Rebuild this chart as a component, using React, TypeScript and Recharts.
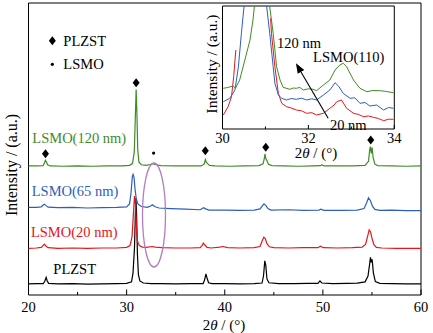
import React from 'react';
import {
  ComposedChart,
  LineChart,
  Line,
  Scatter,
  XAxis,
  YAxis,
  ReferenceDot,
  ReferenceLine,
  ReferenceArea,
} from 'recharts';

const FONT = '"Liberation Serif", "Times New Roman", serif';
const BLACK = '#000000';
const RED = '#e8151b';
const BLUE = '#2c5fbd';
const GREEN = '#3f8b26';
const PURPLE = '#b57cc0';

// main XRD patterns: [2θ, intensity], traces already stacked
const plzst: [number, number][] = [
  [20, 3.8], [20.8, 3.9], [21.5, 3.9], [21.65, 4.6], [21.8, 6.0], [21.9, 4.9], [22.05, 4.0],
  [23, 3.8], [24.5, 3.9], [26, 3.7], [27.5, 3.8], [29, 3.9], [30, 4.0], [30.5, 4.5],
  [30.65, 7.5], [30.8, 16], [30.9, 29], [30.95, 33.2], [31.02, 27], [31.1, 14], [31.2, 7],
  [31.35, 4.8], [31.7, 4.1], [32.5, 3.9], [33.5, 3.9], [35, 3.8], [36.5, 3.9], [37.8, 3.9],
  [37.95, 5.2], [38.08, 7.2], [38.18, 6.0], [38.35, 4.2], [38.7, 3.9], [40, 3.9], [41.5, 3.8],
  [43, 3.9], [43.8, 4.1], [43.95, 6.5], [44.08, 11.7], [44.18, 10.2], [44.3, 5.5], [44.5, 4.2],
  [45.5, 3.9], [47, 3.9], [48.5, 4.0], [49.5, 4.0], [49.7, 4.8], [49.9, 4.1], [51, 3.9],
  [52.5, 4.0], [53.5, 4.1], [54.3, 4.5], [54.6, 6.5], [54.78, 11], [54.85, 12.9], [54.93, 11.2],
  [55.02, 12.2], [55.15, 7.5], [55.35, 4.6], [55.8, 4.0], [57, 3.9], [58.5, 3.8], [60, 3.8],
];

const lsmo20: [number, number][] = [
  [20, 16.0], [20.8, 16.1], [21.3, 16.3], [21.5, 17.0], [21.62, 17.4], [21.8, 16.7], [22.0, 16.2],
  [23, 16.0], [24.5, 16.1], [26, 16.0], [27.5, 16.1], [29, 16.1], [30, 16.3], [30.35, 16.9],
  [30.55, 20], [30.68, 27], [30.8, 33.9], [30.9, 31], [31.0, 23], [31.1, 18.5], [31.3, 16.9],
  [31.6, 16.4], [32.0, 16.3], [32.6, 16.6], [32.9, 16.4], [33.6, 16.2], [35, 16.1], [36.5, 16.1],
  [37.5, 16.2], [37.7, 17.0], [37.82, 17.8], [37.95, 17.2], [38.2, 16.3], [38.6, 16.1],
  [39.5, 16.4], [39.8, 16.6], [40.3, 16.2], [41.5, 16.1], [43, 16.2], [43.6, 16.6], [43.82, 18.6],
  [43.98, 19.8], [44.12, 19.4], [44.3, 17.6], [44.55, 16.5], [45, 16.2], [46.5, 16.1], [48, 16.2],
  [49.5, 16.2], [49.75, 16.7], [50.05, 16.2], [51.5, 16.1], [53, 16.2], [54, 16.4], [54.35, 17.3],
  [54.55, 20], [54.72, 22.3], [54.85, 21.7], [55.0, 19.5], [55.2, 17.2], [55.45, 16.3], [56, 16.1],
  [57.5, 16.0], [60, 16.0],
];

const lsmo65: [number, number][] = [
  [20, 30.0], [20.8, 30.0], [21.3, 30.2], [21.5, 30.8], [21.62, 31.1], [21.8, 30.6], [22.0, 30.1],
  [23, 29.9], [24.5, 30.0], [26, 29.8], [27.5, 29.9], [29, 30.0], [30, 30.2], [30.3, 31.2],
  [30.45, 35], [30.58, 40.5], [30.66, 41.3], [30.75, 40.4], [30.85, 36.5], [30.98, 33],
  [31.15, 31.2], [31.5, 30.3], [32.1, 30.0], [32.45, 30.5], [32.62, 30.9], [32.85, 30.3],
  [33.3, 29.8], [34.5, 29.6], [36, 29.4], [37.5, 29.2], [37.7, 29.6], [37.85, 29.9], [38.05, 29.5],
  [38.4, 29.1], [40, 29.1], [41.5, 29.0], [43, 29.1], [43.6, 29.5], [43.85, 30.6], [44.0, 31.2],
  [44.18, 30.7], [44.4, 29.6], [44.7, 29.1], [46.5, 29.2], [48, 29.0], [49.6, 29.1], [49.8, 29.4],
  [50.1, 29.0], [52, 29.0], [53.5, 29.1], [54.2, 29.6], [54.45, 31.5], [54.65, 33.3], [54.85, 32.3],
  [55.05, 30.4], [55.3, 29.3], [55.8, 29.0], [57, 29.1], [58.5, 28.9], [60, 28.9],
];

const lsmo120: [number, number][] = [
  [20, 44.2], [20.8, 44.2], [21.5, 44.3], [21.62, 45.2], [21.72, 46.1], [21.82, 45.6], [21.95, 44.6],
  [22.2, 44.2], [23.5, 44.1], [25, 44.2], [26.5, 44.1], [28, 44.2], [29.5, 44.2], [30.3, 44.4],
  [30.6, 45], [30.78, 49], [30.88, 60], [30.97, 70.4], [31.05, 62], [31.13, 50], [31.25, 45.5],
  [31.5, 44.6], [32.0, 44.4], [32.4, 44.7], [32.7, 45.0], [33.0, 44.6], [33.5, 44.3], [35, 44.2],
  [36.5, 44.2], [37.6, 44.2], [37.9, 44.8], [38.03, 46.4], [38.12, 45.5], [38.25, 45.0],
  [38.45, 44.4], [39, 44.2], [40.5, 44.1], [42, 44.2], [43.5, 44.3], [43.9, 44.9], [44.02, 46.5],
  [44.1, 48.3], [44.18, 46.7], [44.28, 46.2], [44.45, 44.8], [44.8, 44.3], [46, 44.2], [47.5, 44.1],
  [49, 44.2], [49.75, 44.3], [49.9, 44.6], [50.1, 44.2], [51.5, 44.2], [53, 44.2], [54.3, 44.4],
  [54.65, 45.8], [54.78, 50], [54.85, 50.8], [54.93, 48.5], [55.02, 50.5], [55.12, 47], [55.3, 44.8],
  [55.6, 44.3], [57, 44.2], [58.5, 44.1], [60, 44.2],
];

// peak markers above the 120 nm trace
const plzstPeaks: [number, number][] = [
  [21.73, 48.4], [30.97, 72.7], [38.02, 49.4], [44.18, 50.6], [54.88, 53.1],
];
const lsmoPeaks: [number, number][] = [[32.75, 48.6]];

// inset: zoom on 30-34°
const inset20: [number, number | null][] = [
  [30.02, 14], [30.13, 22.3], [30.21, 32.3], [30.26, 52.3], [30.31, 79], [30.6, null],
  [31.12, 110.7], [31.14, 95.7], [31.22, 62.3], [31.3, 35.7], [31.38, 25.7], [31.49, 22.3],
  [31.6, 21], [31.72, 19], [31.84, 18.2], [31.96, 15.7], [32.08, 16.3], [32.19, 14],
  [32.35, 15.7], [32.5, 20.7], [32.6, 24], [32.66, 27.3], [32.77, 29], [32.89, 20.7],
  [33.05, 15.7], [33.17, 14.5], [33.28, 12.3], [33.4, 13], [33.51, 11.7], [33.63, 10.5],
  [33.75, 8.3], [33.87, 9.8], [33.98, 9.7],
];
const inset65: [number, number][] = [
  [30.02, 27.3], [30.17, 30.7], [30.29, 39], [30.37, 62.3], [30.44, 95.7], [30.5, 122],
  [30.7, 200], [31.03, 122], [31.1, 95.7], [31.18, 62.3], [31.22, 45.7], [31.3, 34],
  [31.38, 30.7], [31.49, 29], [31.6, 30.5], [31.72, 29.7], [31.84, 30.8], [31.96, 29],
  [32.08, 30.2], [32.19, 29], [32.35, 34], [32.5, 39], [32.62, 46.3], [32.7, 43], [32.81, 35.7],
  [32.97, 30.7], [33.08, 31.2], [33.2, 25.7], [33.32, 26.5], [33.43, 23], [33.59, 24],
  [33.75, 19], [33.87, 21.5], [33.98, 20.7],
];
const inset120: [number, number][] = [
  [30.02, 40.7], [30.12, 41.5], [30.25, 43], [30.3, 40.7], [30.4, 49], [30.52, 69], [30.64, 89],
  [30.71, 109], [30.74, 122], [30.85, 200], [31.0, 200], [31.1, 122], [31.14, 109], [31.18, 95.7],
  [31.26, 62.3], [31.34, 49], [31.41, 41.7], [31.57, 39.7], [31.65, 41], [31.72, 40.7],
  [31.8, 41.6], [31.88, 39], [32.0, 40.2], [32.11, 39.7], [32.19, 38.3], [32.35, 44], [32.5, 49],
  [32.62, 59], [32.73, 64], [32.81, 65.7], [32.89, 62.3], [33.05, 49], [33.2, 40.7],
  [33.36, 37.3], [33.5, 38.5], [33.67, 38.3], [33.8, 37.6], [33.98, 36.3],
];

const mainTicks = [20, 25, 30, 35, 40, 45, 50, 55, 60];
const insetTicks = [30, 31, 32, 33, 34];

const toPts = (a: [number, number | null][]) => a.map(([x, y]) => ({ x, y }));

const txt = { fontFamily: FONT };

const Diamond = (p: any) => (
  <polygon
    points={`${p.cx},${p.cy - 4.5} ${p.cx + 3.5},${p.cy} ${p.cx},${p.cy + 4.5} ${p.cx - 3.5},${p.cy}`}
    fill={BLACK}
  />
);
const SmallDot = (p: any) => <circle cx={p.cx} cy={p.cy} r={1.6} fill={BLACK} />;

const textAt = (label: string, color: string, size = 14.5) => (p: any) => (
  <text x={p.cx} y={p.cy} fill={color} fontSize={size} style={txt} dominantBaseline="central">
    {label}
  </text>
);

const legendItem = (label: string, marker: 'diamond' | 'dot') => (p: any) => (
  <g>
    {marker === 'diamond' ? <Diamond cx={p.cx} cy={p.cy} /> : <SmallDot cx={p.cx} cy={p.cy} />}
    <text x={p.cx + 11} y={p.cy} fill={BLACK} fontSize={14.5} style={txt} dominantBaseline="central">
      {label}
    </text>
  </g>
);

const Ellipse = (p: any) => (
  <ellipse cx={p.cx} cy={p.cy} rx={11.5} ry={52} fill="none" stroke={PURPLE} strokeWidth={1.3} />
);

const Arrow = (p: any) => {
  const { x1, y1, x2, y2 } = p;
  const a = Math.atan2(y2 - y1, x2 - x1);
  const L = 10;
  const W = 3.8;
  const bx = x2 - L * Math.cos(a);
  const by = y2 - L * Math.sin(a);
  const nx = -Math.sin(a) * W;
  const ny = Math.cos(a) * W;
  return (
    <g>
      <line x1={x1} y1={y1} x2={bx} y2={by} stroke={BLACK} strokeWidth={1.1} />
      <polygon points={`${x2},${y2} ${bx + nx},${by + ny} ${bx - nx},${by - ny}`} fill={BLACK} />
    </g>
  );
};

// inward tick + label under the axis
const makeTick = (isMajor: (v: number) => boolean, majLen: number, minLen: number, labelDy: number) => (p: any) => {
  const v = p.payload.value;
  const major = isMajor(v);
  return (
    <g>
      <line x1={p.x} y1={p.y} x2={p.x} y2={p.y - (major ? majLen : minLen)} stroke={BLACK} strokeWidth={1} />
      {major && (
        <text x={p.x} y={p.y + labelDy} textAnchor="middle" dominantBaseline="central" fontSize={14.5} fill={BLACK} style={txt}>
          {v}
        </text>
      )}
    </g>
  );
};

const MainTick = makeTick((v) => v % 10 === 0, 5.5, 3, 11.7);
const InsetTick = makeTick((v) => v % 2 === 0, 4, 2.5, 9);

export default function App() {
  return (
    <div style={{ position: 'absolute', left: 0, top: 0, width: 433, height: 333, background: '#fff' }}>
      <ComposedChart width={433} height={333} margin={{ top: 3, right: 12, bottom: 8, left: 27.5 }}>
        <XAxis
          type="number"
          dataKey="x"
          domain={[20, 60]}
          ticks={mainTicks}
          interval={0}
          height={30}
          tickLine={false}
          tickSize={0}
          tickMargin={0}
          tick={MainTick}
          axisLine={false}
          label={{
            content: () => (
              <text x={224} y={329.5} textAnchor="middle" fontSize={15} style={txt} fill={BLACK}>
                2<tspan fontStyle="italic">θ</tspan> / (°)
              </text>
            ),
          }}
        />
        <YAxis
          type="number"
          domain={[0, 100]}
          width={1}
          tick={false}
          tickLine={false}
          axisLine={false}
          label={{
            content: () => (
              <text
                x={11}
                y={165}
                transform="rotate(-90 11 165)"
                textAnchor="middle"
                dominantBaseline="central"
                fontSize={16}
                style={txt}
                fill={BLACK}
              >
                Intensity / (a.u.)
              </text>
            ),
          }}
        />
        <ReferenceArea x1={20} x2={60} y1={0} y2={100} fill="none" stroke={BLACK} strokeWidth={1} />

        <Line data={toPts(plzst)} dataKey="y" stroke={BLACK} strokeWidth={1.2} dot={false} isAnimationActive={false} />
        <Line data={toPts(lsmo20)} dataKey="y" stroke={RED} strokeWidth={1.2} dot={false} isAnimationActive={false} />
        <Line data={toPts(lsmo65)} dataKey="y" stroke={BLUE} strokeWidth={1.2} dot={false} isAnimationActive={false} />
        <Line data={toPts(lsmo120)} dataKey="y" stroke={GREEN} strokeWidth={1.2} dot={false} isAnimationActive={false} />
        <Scatter data={toPts(plzstPeaks)} dataKey="y" shape={Diamond} isAnimationActive={false} />
        <Scatter data={toPts(lsmoPeaks)} dataKey="y" shape={SmallDot} isAnimationActive={false} />

        <ReferenceDot x={32.79} y={27.4} r={0} shape={Ellipse} />
        <ReferenceDot x={22.43} y={87.1} r={0} shape={legendItem('PLZST', 'diamond')} />
        <ReferenceDot x={22.43} y={79.0} r={0} shape={legendItem('LSMO', 'dot')} />
        <ReferenceDot x={20.39} y={53.7} r={0} shape={textAt('LSMO(120 nm)', GREEN)} />
        <ReferenceDot x={20.33} y={35.6} r={0} shape={textAt('LSMO(65 nm)', BLUE)} />
        <ReferenceDot x={20.25} y={21.7} r={0} shape={textAt('LSMO(20 nm)', RED)} />
        <ReferenceDot x={22.53} y={8.9} r={0} shape={textAt('PLZST', BLACK)} />
      </ComposedChart>

      <div style={{ position: 'absolute', left: 190, top: 0 }}>
        <LineChart width={215} height={162} margin={{ top: 6, right: 10.7, bottom: 13, left: 31.5 }}>
          <XAxis
            type="number"
            dataKey="x"
            domain={[30, 34]}
            allowDataOverflow
            ticks={insetTicks}
            interval={0}
            height={20}
            tickLine={false}
            tickSize={0}
            tickMargin={0}
            tick={InsetTick}
            axisLine={false}
            label={{
              content: () => (
                <text x={126} y={157.5} textAnchor="middle" fontSize={15} style={txt} fill={BLACK}>
                  2<tspan fontStyle="italic">θ</tspan> / (°)
                </text>
              ),
            }}
          />
          <YAxis
            type="number"
            domain={[0, 123]}
            allowDataOverflow
            width={1}
            tick={false}
            tickLine={false}
            axisLine={false}
            label={{
              content: () => (
                <text
                  x={21.5}
                  y={64}
                  transform="rotate(-90 21.5 64)"
                  textAnchor="middle"
                  dominantBaseline="central"
                  fontSize={15.5}
                  style={txt}
                  fill={BLACK}
                >
                  Intensity / (a.u.)
                </text>
              ),
            }}
          />
          <ReferenceArea x1={30} x2={34} y1={0} y2={123} fill="none" stroke={BLACK} strokeWidth={1} />

          <Line data={toPts(inset20)} dataKey="y" stroke={RED} strokeWidth={1} dot={false} isAnimationActive={false} />
          <Line data={toPts(inset65)} dataKey="y" stroke={BLUE} strokeWidth={1} dot={false} isAnimationActive={false} />
          <Line data={toPts(inset120)} dataKey="y" stroke={GREEN} strokeWidth={1} dot={false} isAnimationActive={false} />

          <ReferenceLine segment={[{ x: 32.46, y: 10.7 }, { x: 31.71, y: 65.7 }]} shape={Arrow} ifOverflow="visible" />
          <ReferenceDot x={31.27} y={86} r={0} shape={textAt('120 nm', BLACK)} />
          <ReferenceDot x={32.11} y={72.3} r={0} shape={textAt('LSMO(110)', BLACK)} />
          <ReferenceDot x={32.5} y={4} r={0} shape={textAt('20 nm', BLACK)} />
        </LineChart>
      </div>
    </div>
  );
}
